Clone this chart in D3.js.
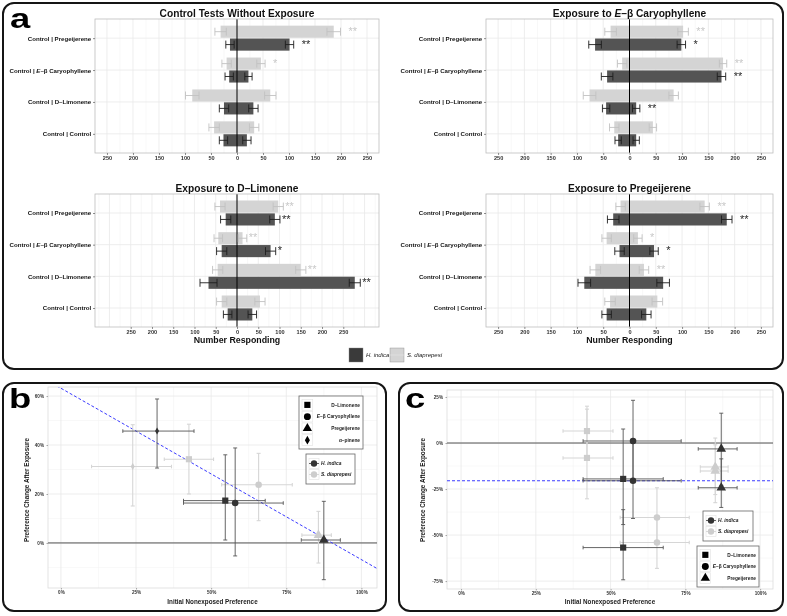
<!DOCTYPE html>
<html><head><meta charset="utf-8">
<script src="https://cdn.jsdelivr.net/npm/d3@7"></script>
<style>body{margin:0;background:#fff}svg{display:block}text{font-family:"Liberation Sans",Arial,Helvetica,sans-serif}</style>
</head><body><svg width="787" height="616"></svg>
<script>
// ---------------- DATA: panel a (bar charts) ----------------
const categories = ["Control | Pregeijerene","Control | E–β Caryophyllene","Control | D–Limonene","Control | Control"];
const speciesNames = ["H. indica","S. diaprepesi"];
const panelTitles = ["Control Tests Without Exposure","Exposure to E–β Caryophyllene","Exposure to D–Limonene","Exposure to Pregeijerene"];
const barTicks = [-250,-200,-150,-100,-50,0,50,100,150,200,250];
// values per panel (rows) and category (columns); left = control side (negative)
const indicaLeft     = [[-13.5,-15,-25,-26],[-65.5,-42.6,-44.5,-21.6],[-26.6,-36,-67,-22],[-31,-19,-86,-43.5]];
const indicaLeftErr  = [[8,8,9,8],[12,11,7,6],[12,12,20,10],[11,9,12,9]];
const indicaRight    = [[101,22,31.5,19],[98.6,175,12.7,12.7],[89,79,277,36],[185,46.7,64,32]];
const indicaRightErr = [[8,7,9,8],[8,8,7,6],[12,12,13,10],[10,8,12,9]];
const indicaStars    = [["**","","",""],["*","**","**",""],["**","*","**",""],["**","*","",""]];
const diapLeft       = [[-31.5,-20,-86,-44],[-36,-14,-76,-29],[-40,-44,-45.5,-36],[-17,-43.5,-65,-37]];
const diapLeftErr    = [[11,9,13,10],[11,9,12,9],[12,10,12,12],[9,9,10,10]];
const diapRight      = [[186,46,64,33],[102,178,84,44.5],[97,13,150,54],[143,16,27.5,53]];
const diapRightErr   = [[13,8,11,9],[10,7,9,7],[12,10,12,12],[9,8,9,10]];
const diapStars      = [["**","*","",""],["**","**","",""],["**","**","**",""],["**","*","**",""]];

// ---------------- DATA: panel b ----------------
const compounds = ["D–Limonene","E–β Caryophyllene","Pregeijerene","α–pinene"];
const bSpecies  = ["H. indica","H. indica","H. indica","H. indica","S. diaprepesi","S. diaprepesi","S. diaprepesi","S. diaprepesi"];
const bCompound = ["α–pinene","D–Limonene","E–β Caryophyllene","Pregeijerene","α–pinene","D–Limonene","E–β Caryophyllene","Pregeijerene"];
const bX   = [32, 54.7, 58, 87.5, 23.9, 42.6, 65.8, 85.7];
const bXlo = [20.6, 40.8, 40.8, 80, 10.2, 34.4, 53.5, 80.2];
const bXhi = [44.3, 68, 74, 93, 36.8, 50.8, 77, 90];
const bY   = [45.7, 17.3, 16.3, 1.2, 31.2, 34.2, 23.8, 3.2];
const bYlo = [30.6, 1.2, -5.3, -15, 15.1, 20, 9.1, -8.2];
const bYhi = [58.8, 36, 38.8, 17, 48.3, 48.5, 36.6, 12.9];
const bFit = [63.2, -0.70]; // intercept, slope
const bXTicks = [0,25,50,75,100];
const bYTicks = [0,20,40,60];

// ---------------- DATA: panel c ----------------
const cSpecies  = ["H. indica","H. indica","H. indica","H. indica","H. indica","H. indica","S. diaprepesi","S. diaprepesi","S. diaprepesi","S. diaprepesi","S. diaprepesi","S. diaprepesi"];
const cCompound = ["E–β Caryophyllene","E–β Caryophyllene","D–Limonene","D–Limonene","Pregeijerene","Pregeijerene","D–Limonene","D–Limonene","E–β Caryophyllene","E–β Caryophyllene","Pregeijerene","Pregeijerene"];
const cX   = [57.5, 57.5, 54.2, 54.2, 87, 87, 42.1, 42.1, 65.5, 65.5, 85, 85];
const cXlo = [40.8, 40.8, 40.8, 40.8, 79.3, 79.3, 34.1, 34.1, 53.2, 53.2, 80, 80];
const cXhi = [73.6, 73.6, 67.6, 67.6, 92.3, 92.3, 50.8, 50.8, 76.3, 76.3, 89.3, 89.3];
const cY   = [1.1, -20.5, -19.5, -56.8, -3.2, -24.3, 6.5, -8.1, -40.5, -54, -13, -15.2];
const cYlo = [-21, -41, -44.3, -74.3, -23, -35, -7, -30.3, -53.5, -68.1, -28, -32.4];
const cYhi = [23.2, 0, 7.6, -36.2, 16.2, -8.6, 20, 18.4, -24.3, -40, 2.7, -1];
const cFit = [-20.5, 0];
const cXTicks = [0,25,50,75,100];
const cYTicks = [-75,-50,-25,0,25];

// ---------------- STYLE ----------------
const DARK_BAR = "#545454", LIGHT_BAR = "#d4d4d4";
const DARK_ERR = "#1e1e1e", LIGHT_ERR = "#c2c2c2";
const DARK_PT = "#333333", LIGHT_PT = "#cdcdcd";
const DARK_PERR = "#555555", LIGHT_PERR = "#d6d6d6";
const svg = d3.select("svg");
svg.append("defs").append("filter").attr("id","gs").attr("x","-20%").attr("y","-40%").attr("width","140%").attr("height","180%")
  .append("feColorMatrix").attr("type","saturate").attr("values","0");

function rich(sel, str){
  sel.each(function(){
    const t = d3.select(this); const s = str || t.text();
    const i = s.indexOf("E–β");
    if(i < 0){ t.text(s); return; }
    t.text(null);
    t.append("tspan").text(s.slice(0,i));
    t.append("tspan").attr("font-style","italic").text("E");
    t.append("tspan").text(s.slice(i+1));
  });
}

// frames
const frames = [
  {x:3,y:3,w:780,h:366,label:"a",lx:10,ly:28},
  {x:3,y:383,w:383,h:228,label:"b",lx:9,ly:408},
  {x:399,y:383,w:384,h:228,label:"c",lx:405,ly:408}
];
frames.forEach(f=>{
  svg.append("rect").attr("x",f.x).attr("y",f.y).attr("width",f.w).attr("height",f.h)
    .attr("rx",11).attr("fill","#fff").attr("stroke","#151515").attr("stroke-width",2);
});

// ---------------- panel a ----------------
const barLayout = [
  {x0:95,x1:379,y0:19,y1:153,dom:273,gap:8,xTitle:false},
  {x0:486,x1:773,y0:19,y1:153,dom:273,gap:8,xTitle:false},
  {x0:95,x1:379,y0:194,y1:327,dom:334,gap:2,xTitle:true},
  {x0:486,x1:773,y0:194,y1:327,dom:273,gap:8,xTitle:true}
];
barLayout.forEach((L,p)=>{
  const x = d3.scaleLinear().domain([-L.dom,L.dom]).range([L.x0,L.x1]);
  const y = d3.scalePoint().domain(categories).range([L.y0,L.y1]).padding(0.6);
  const sub = d3.scaleBand().domain(["S. diaprepesi","H. indica"]).range([-12.5,12.5]).paddingInner(0.06);
  const g = svg.append("g");
  const inDom = v => v > -L.dom && v < L.dom;
  g.selectAll(".vmin").data(d3.range(-325,326,50).filter(inDom)).join("line")
    .attr("x1",d=>x(d)).attr("x2",d=>x(d)).attr("y1",L.y0).attr("y2",L.y1).attr("stroke","#f3f3f3").attr("stroke-width",0.6);
  g.selectAll(".vmaj").data(d3.range(-300,301,50).filter(inDom)).join("line")
    .attr("x1",d=>x(d)).attr("x2",d=>x(d)).attr("y1",L.y0).attr("y2",L.y1).attr("stroke","#e8e8e8").attr("stroke-width",0.8);
  g.selectAll(".hmaj").data(categories).join("line")
    .attr("x1",L.x0).attr("x2",L.x1).attr("y1",d=>y(d)).attr("y2",d=>y(d)).attr("stroke","#e8e8e8").attr("stroke-width",0.8);

  const rows = [];
  categories.forEach((c,i)=>{
    rows.push({sp:"S. diaprepesi",c,L:diapLeft[p][i],Le:diapLeftErr[p][i],R:diapRight[p][i],Re:diapRightErr[p][i],star:diapStars[p][i]});
    rows.push({sp:"H. indica",c,L:indicaLeft[p][i],Le:indicaLeftErr[p][i],R:indicaRight[p][i],Re:indicaRightErr[p][i],star:indicaStars[p][i]});
  });
  const fill = d=> d.sp==="H. indica" ? DARK_BAR : LIGHT_BAR;
  const ecol = d=> d.sp==="H. indica" ? DARK_ERR : LIGHT_ERR;
  const yc = d=> y(d.c)+sub(d.sp)+sub.bandwidth()/2;
  rows.forEach(d=>{
    [[d.L,0],[0,d.R]].forEach(([a,b])=>{
      g.append("rect").attr("x",x(a)).attr("width",x(b)-x(a))
        .attr("y",y(d.c)+sub(d.sp)).attr("height",sub.bandwidth()).attr("fill",fill(d));
    });
  });
  g.append("line").attr("x1",x(0)).attr("x2",x(0)).attr("y1",L.y0).attr("y2",L.y1).attr("stroke","#000").attr("stroke-width",1);
  rows.forEach(d=>{
    [[d.L,d.Le],[d.R,d.Re]].forEach(([v,e])=>{
      const c = ecol(d), yy = yc(d);
      g.append("line").attr("x1",x(v-e)).attr("x2",x(v+e)).attr("y1",yy).attr("y2",yy).attr("stroke",c).attr("stroke-width",0.9);
      [v-e,v+e].forEach(q=> g.append("line").attr("x1",x(q)).attr("x2",x(q)).attr("y1",yy-4).attr("y2",yy+4).attr("stroke",c).attr("stroke-width",0.9));
    });
    if(d.star){
      g.append("text").attr("x",x(d.R+d.Re)+L.gap).attr("y",yc(d)+3.2)
        .attr("font-size",11).attr("fill",d.sp==="H. indica"?"#2a2a2a":"#c8c8c8").text(d.star);
    }
  });
  g.append("rect").attr("x",L.x0).attr("y",L.y0).attr("width",L.x1-L.x0).attr("height",L.y1-L.y0)
    .attr("fill","none").attr("stroke","#bdbdbd").attr("stroke-width",0.8);
  const ax = g.append("g").attr("transform",`translate(0,${L.y1})`)
    .call(d3.axisBottom(x).tickValues(barTicks).tickFormat(d=>Math.abs(d)).tickSize(2).tickPadding(1.5));
  ax.select(".domain").remove();
  ax.selectAll("line").attr("stroke","#444").attr("stroke-width",0.6);
  ax.selectAll("text").attr("font-size",5.6).attr("font-weight","bold").attr("fill","#333").attr("font-family","Liberation Sans, Arial, sans-serif");
  const ay = g.append("g").attr("transform",`translate(${L.x0},0)`)
    .call(d3.axisLeft(y).tickSize(2).tickPadding(1.8));
  ay.select(".domain").remove();
  ay.selectAll("line").attr("stroke","#444").attr("stroke-width",0.6);
  ay.selectAll("text").attr("font-size",6.1).attr("font-weight","bold").attr("fill","#111").attr("font-family","Liberation Sans, Arial, sans-serif")
    .each(function(d){ rich(d3.select(this), d); });
  const t = g.append("text").attr("x",(L.x0+L.x1)/2).attr("y",L.y0-2).attr("text-anchor","middle")
    .attr("font-size",10.2).attr("font-weight","bold").attr("fill","#111");
  rich(t, panelTitles[p]);
  if(L.xTitle){
    g.append("text").attr("x",(L.x0+L.x1)/2).attr("y",L.y1+15.5).attr("text-anchor","middle")
      .attr("font-size",8.8).attr("font-weight","bold").attr("fill","#111").text("Number Responding");
  }
});
const legA = svg.append("g").attr("transform","translate(349,348)");
speciesNames.forEach((s,i)=>{
  const gx = i*41;
  legA.append("rect").attr("x",gx).attr("y",0).attr("width",14).attr("height",14)
    .attr("fill", s==="H. indica"?"#3a3a3a":LIGHT_BAR).attr("stroke","#888").attr("stroke-width",0.4);
  if(s!=="H. indica") legA.append("line").attr("x1",gx).attr("x2",gx+14).attr("y1",7).attr("y2",7).attr("stroke","#e4e4e4").attr("stroke-width",0.6);
  legA.append("text").attr("x",gx+17).attr("y",9.3).attr("font-size",6).attr("font-style","italic").attr("fill","#222").text(s);
});

// ---------------- panels b & c ----------------
const shapeOf = {"D–Limonene":d3.symbolSquare,"E–β Caryophyllene":d3.symbolCircle,"Pregeijerene":d3.symbolTriangle,"α–pinene":d3.symbolDiamond};
const sizeOf = {"D–Limonene":38,"E–β Caryophyllene":34,"Pregeijerene":40,"α–pinene":14};
const scatterLayout = [
  {x0:48,x1:377,y0:387,y1:588,xdom:[-4.3,105.2],ydom:[-18.4,63.7],
   data:{sp:bSpecies,cp:bCompound,x:bX,xlo:bXlo,xhi:bXhi,y:bY,ylo:bYlo,yhi:bYhi},fit:bFit,xt:bXTicks,yt:bYTicks,
   shapeLeg:{x:299,y:396,w:64,h:53,items:compounds}, colLeg:{x:306,y:454,w:49,h:30}, yTitleX:29},
  {x0:447,x1:773,y0:390,y1:589,xdom:[-4.7,104.3],ydom:[-79.3,28.8],
   data:{sp:cSpecies,cp:cCompound,x:cX,xlo:cXlo,xhi:cXhi,y:cY,ylo:cYlo,yhi:cYhi},fit:cFit,xt:cXTicks,yt:cYTicks,
   shapeLeg:{x:697,y:546,w:62,h:41,items:compounds.slice(0,3)}, colLeg:{x:703,y:511,w:50,h:30}, yTitleX:425}
];
scatterLayout.forEach((L,k)=>{
  const x = d3.scaleLinear().domain(L.xdom).range([L.x0,L.x1]);
  const y = d3.scaleLinear().domain(L.ydom).range([L.y1,L.y0]);
  const g = svg.append("g");
  const clipId = "clip"+k;
  g.append("clipPath").attr("id",clipId).append("rect").attr("x",L.x0).attr("y",L.y0).attr("width",L.x1-L.x0).attr("height",L.y1-L.y0);
  const xMinor = L.xt.slice(1).map((v,i)=>(v+L.xt[i])/2);
  const yMinor = L.yt.slice(1).map((v,i)=>(v+L.yt[i])/2);
  const ystep = L.yt[1]-L.yt[0];
  yMinor.unshift(L.yt[0]-ystep/2); yMinor.push(L.yt[L.yt.length-1]+ystep/2);
  g.selectAll(".xm").data(xMinor).join("line").attr("x1",d=>x(d)).attr("x2",d=>x(d)).attr("y1",L.y0).attr("y2",L.y1).attr("stroke","#f4f4f4").attr("stroke-width",0.6);
  g.selectAll(".ym").data(yMinor.filter(v=>v>L.ydom[0]&&v<L.ydom[1])).join("line").attr("x1",L.x0).attr("x2",L.x1).attr("y1",d=>y(d)).attr("y2",d=>y(d)).attr("stroke","#f4f4f4").attr("stroke-width",0.6);
  g.selectAll(".xM").data(L.xt).join("line").attr("x1",d=>x(d)).attr("x2",d=>x(d)).attr("y1",L.y0).attr("y2",L.y1).attr("stroke","#e9e9e9").attr("stroke-width",0.8);
  g.selectAll(".yM").data(L.yt).join("line").attr("x1",L.x0).attr("x2",L.x1).attr("y1",d=>y(d)).attr("y2",d=>y(d)).attr("stroke","#e9e9e9").attr("stroke-width",0.8);
  g.append("rect").attr("x",L.x0).attr("y",L.y0).attr("width",L.x1-L.x0).attr("height",L.y1-L.y0).attr("fill","none").attr("stroke","#dcdcdc").attr("stroke-width",0.8);
  g.append("line").attr("x1",L.x0).attr("x2",L.x1).attr("y1",y(0)).attr("y2",y(0)).attr("stroke","#555").attr("stroke-width",1);
  g.append("line").attr("clip-path",`url(#${clipId})`)
    .attr("x1",x(L.xdom[0])).attr("y1",y(L.fit[0]+L.fit[1]*L.xdom[0]))
    .attr("x2",x(L.xdom[1])).attr("y2",y(L.fit[0]+L.fit[1]*L.xdom[1]))
    .attr("stroke","#3b3bff").attr("stroke-width",1).attr("stroke-dasharray","3,2");
  const D = L.data;
  const idx = d3.range(D.x.length).sort((a,b)=> (D.sp[a]==="H. indica") - (D.sp[b]==="H. indica"));
  idx.forEach(i=>{
    const dark = D.sp[i]==="H. indica";
    const c = dark ? DARK_PERR : LIGHT_PERR, w = dark ? 0.9 : 1.1;
    const px = x(D.x[i]), py = y(D.y[i]);
    g.append("line").attr("x1",x(D.xlo[i])).attr("x2",x(D.xhi[i])).attr("y1",py).attr("y2",py).attr("stroke",c).attr("stroke-width",w);
    [D.xlo[i],D.xhi[i]].forEach(q=>g.append("line").attr("x1",x(q)).attr("x2",x(q)).attr("y1",py-1.8).attr("y2",py+1.8).attr("stroke",c).attr("stroke-width",w));
    g.append("line").attr("x1",px).attr("x2",px).attr("y1",y(D.ylo[i])).attr("y2",y(D.yhi[i])).attr("stroke",c).attr("stroke-width",w);
    [D.ylo[i],D.yhi[i]].forEach(q=>g.append("line").attr("x1",px-2).attr("x2",px+2).attr("y1",y(q)).attr("y2",y(q)).attr("stroke",c).attr("stroke-width",w));
  });
  idx.forEach(i=>{
    const dark = D.sp[i]==="H. indica";
    g.append("path").attr("transform",`translate(${x(D.x[i])},${y(D.y[i])})`)
      .attr("d",d3.symbol().type(shapeOf[D.cp[i]]).size(sizeOf[D.cp[i]])())
      .attr("fill",dark?DARK_PT:LIGHT_PT);
  });
  const ax = g.append("g").attr("transform",`translate(0,${L.y1})`).call(d3.axisBottom(x).tickValues(L.xt).tickFormat(d=>d+"%").tickSize(1.5).tickPadding(1.5));
  ax.select(".domain").remove();
  ax.selectAll("line").attr("stroke","#555").attr("stroke-width",0.5);
  ax.selectAll("text").attr("font-size",4.6).attr("fill","#333").attr("font-weight","bold");
  const ay = g.append("g").attr("transform",`translate(${L.x0},0)`).call(d3.axisLeft(y).tickValues(L.yt).tickFormat(d=>d+"%").tickSize(1.5).tickPadding(2.5));
  ay.select(".domain").remove();
  ay.selectAll("line").attr("stroke","#555").attr("stroke-width",0.5);
  ay.selectAll("text").attr("font-size",4.6).attr("fill","#333").attr("font-weight","bold");
  g.append("text").attr("x",(L.x0+L.x1)/2).attr("y",604).attr("text-anchor","middle").attr("font-size",6.3).attr("font-weight","bold").attr("fill","#222").text("Initial Nonexposed Preference");
  g.append("text").attr("transform",`translate(${L.yTitleX},490) rotate(-90)`).attr("text-anchor","middle").attr("font-size",6.3).attr("font-weight","bold").attr("fill","#222").text("Preference Change After Exposure");
  const S = L.shapeLeg;
  const sg = g.append("g");
  sg.append("rect").attr("x",S.x).attr("y",S.y).attr("width",S.w).attr("height",S.h).attr("fill","#fff").attr("stroke","#666").attr("stroke-width",0.8);
  const rowH = (S.h-6)/S.items.length;
  S.items.forEach((cp,j)=>{
    const cy = S.y+3+rowH*(j+0.5);
    sg.append("rect").attr("x",S.x+3).attr("y",cy-rowH/2+0.5).attr("width",rowH-1).attr("height",rowH-1).attr("fill","#fff").attr("stroke","#e2e2e2").attr("stroke-width",0.6);
    sg.append("path").attr("transform",`translate(${S.x+3+(rowH-1)/2},${cy})`).attr("d",d3.symbol().type(shapeOf[cp]).size(cp==="α–pinene"?22:38)()).attr("fill","#000");
    const t = sg.append("text").attr("x",S.x+S.w-3).attr("y",cy+1.7).attr("text-anchor","end").attr("font-size",4.8).attr("font-weight","bold").attr("fill","#222");
    rich(t, cp);
  });
  const C = L.colLeg;
  const cg = g.append("g");
  cg.append("rect").attr("x",C.x).attr("y",C.y).attr("width",C.w).attr("height",C.h).attr("fill","#fff").attr("stroke","#666").attr("stroke-width",0.8);
  speciesNames.forEach((s,j)=>{
    const cy = C.y+4+11*(j+0.5);
    const dark = s==="H. indica";
    cg.append("rect").attr("x",C.x+3).attr("y",cy-5).attr("width",10).attr("height",10).attr("fill","#fff").attr("stroke","#e2e2e2").attr("stroke-width",0.6);
    cg.append("line").attr("x1",C.x+3).attr("x2",C.x+13).attr("y1",cy).attr("y2",cy).attr("stroke",dark?DARK_PERR:LIGHT_PERR).attr("stroke-width",0.9);
    cg.append("circle").attr("cx",C.x+8).attr("cy",cy).attr("r",3.2).attr("fill",dark?DARK_PT:LIGHT_PT);
    cg.append("text").attr("x",C.x+15).attr("y",cy+1.7).attr("font-size",4.9).attr("font-weight","bold").attr("font-style","italic").attr("fill","#222").text(s);
  });
});

frames.forEach(f=>{
  svg.append("text").attr("transform",`translate(${f.lx},${f.ly}) scale(1.3,1)`).attr("font-size",28).attr("font-weight","bold").attr("fill","#000").text(f.label);
});
// grayscale antialiasing for all text
svg.selectAll("text").attr("filter","url(#gs)");
</script></body></html>
